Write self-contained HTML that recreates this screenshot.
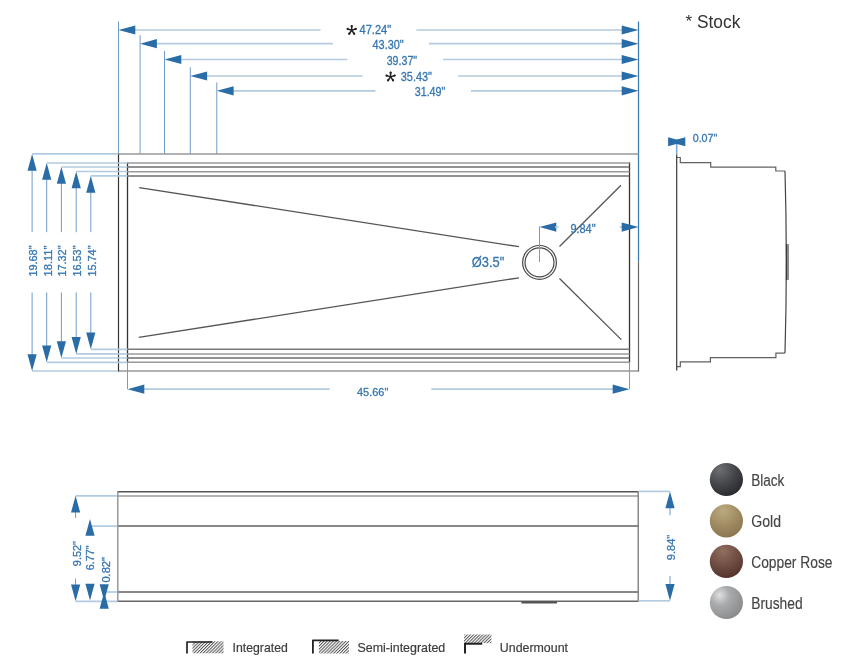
<!DOCTYPE html>
<html><head><meta charset="utf-8"><style>
html,body{margin:0;padding:0;background:#fff;width:848px;height:664px;overflow:hidden}
svg{display:block;will-change:transform}
</style></head><body>
<svg width="848" height="664" viewBox="0 0 848 664"><line x1="118.5" y1="21.5" x2="118.5" y2="154" stroke="#6e9ccb" stroke-width="1.0"/>
<line x1="128.5" y1="30.0" x2="320.5" y2="30.0" stroke="#b2cbe1" stroke-width="1.7"/>
<line x1="416.4" y1="30.0" x2="628.5" y2="30.0" stroke="#b2cbe1" stroke-width="1.7"/>
<polygon points="118.50,30.00 135.30,25.40 135.30,34.60" fill="#2a6ca6"/>
<polygon points="638.50,30.00 621.70,25.40 621.70,34.60" fill="#2a6ca6"/>
<text x="359.5" y="34.4" font-family="'Liberation Sans', sans-serif" font-size="13" fill="#3575b0" text-anchor="start" font-weight="normal" textLength="31.7" lengthAdjust="spacingAndGlyphs" stroke="#3575b0" stroke-width="0.3">47.24&quot;</text>
<line x1="351.70" y1="30.30" x2="351.70" y2="25.80" stroke="#222" stroke-width="1.5" stroke-linecap="round"/>
<circle cx="351.70" cy="26.16" r="1.15" fill="#222"/>
<line x1="351.70" y1="30.30" x2="347.42" y2="28.91" stroke="#222" stroke-width="1.5" stroke-linecap="round"/>
<circle cx="347.76" cy="29.02" r="1.15" fill="#222"/>
<line x1="351.70" y1="30.30" x2="349.05" y2="33.94" stroke="#222" stroke-width="1.5" stroke-linecap="round"/>
<circle cx="349.27" cy="33.65" r="1.15" fill="#222"/>
<line x1="351.70" y1="30.30" x2="354.35" y2="33.94" stroke="#222" stroke-width="1.5" stroke-linecap="round"/>
<circle cx="354.13" cy="33.65" r="1.15" fill="#222"/>
<line x1="351.70" y1="30.30" x2="355.98" y2="28.91" stroke="#222" stroke-width="1.5" stroke-linecap="round"/>
<circle cx="355.64" cy="29.02" r="1.15" fill="#222"/>
<line x1="140.1" y1="35.2" x2="140.1" y2="154" stroke="#6e9ccb" stroke-width="1.0"/>
<line x1="150.1" y1="43.7" x2="332.8" y2="43.7" stroke="#b2cbe1" stroke-width="1.7"/>
<line x1="428.9" y1="43.7" x2="628.5" y2="43.7" stroke="#b2cbe1" stroke-width="1.7"/>
<polygon points="140.10,43.70 156.90,39.10 156.90,48.30" fill="#2a6ca6"/>
<polygon points="638.50,43.70 621.70,39.10 621.70,48.30" fill="#2a6ca6"/>
<text x="372.5" y="49.2" font-family="'Liberation Sans', sans-serif" font-size="13" fill="#3575b0" text-anchor="start" font-weight="normal" textLength="31.2" lengthAdjust="spacingAndGlyphs" stroke="#3575b0" stroke-width="0.3">43.30&quot;</text>
<line x1="164.5" y1="51.0" x2="164.5" y2="154" stroke="#6e9ccb" stroke-width="1.0"/>
<line x1="174.5" y1="59.5" x2="347.4" y2="59.5" stroke="#b2cbe1" stroke-width="1.7"/>
<line x1="443.2" y1="59.5" x2="628.5" y2="59.5" stroke="#b2cbe1" stroke-width="1.7"/>
<polygon points="164.50,59.50 181.30,54.90 181.30,64.10" fill="#2a6ca6"/>
<polygon points="638.50,59.50 621.70,54.90 621.70,64.10" fill="#2a6ca6"/>
<text x="386.7" y="64.9" font-family="'Liberation Sans', sans-serif" font-size="13" fill="#3575b0" text-anchor="start" font-weight="normal" textLength="30.4" lengthAdjust="spacingAndGlyphs" stroke="#3575b0" stroke-width="0.3">39.37&quot;</text>
<line x1="190.3" y1="67.3" x2="190.3" y2="154" stroke="#6e9ccb" stroke-width="1.0"/>
<line x1="200.3" y1="76.0" x2="362.4" y2="76.0" stroke="#b2cbe1" stroke-width="1.7"/>
<line x1="458.0" y1="76.0" x2="628.5" y2="76.0" stroke="#b2cbe1" stroke-width="1.7"/>
<polygon points="190.30,76.00 207.10,71.40 207.10,80.60" fill="#2a6ca6"/>
<polygon points="638.50,76.00 621.70,71.40 621.70,80.60" fill="#2a6ca6"/>
<text x="400.8" y="81.2" font-family="'Liberation Sans', sans-serif" font-size="13" fill="#3575b0" text-anchor="start" font-weight="normal" textLength="31.2" lengthAdjust="spacingAndGlyphs" stroke="#3575b0" stroke-width="0.3">35.43&quot;</text>
<line x1="390.60" y1="76.90" x2="390.60" y2="72.40" stroke="#222" stroke-width="1.5" stroke-linecap="round"/>
<circle cx="390.60" cy="72.76" r="1.15" fill="#222"/>
<line x1="390.60" y1="76.90" x2="386.32" y2="75.51" stroke="#222" stroke-width="1.5" stroke-linecap="round"/>
<circle cx="386.66" cy="75.62" r="1.15" fill="#222"/>
<line x1="390.60" y1="76.90" x2="387.95" y2="80.54" stroke="#222" stroke-width="1.5" stroke-linecap="round"/>
<circle cx="388.17" cy="80.25" r="1.15" fill="#222"/>
<line x1="390.60" y1="76.90" x2="393.25" y2="80.54" stroke="#222" stroke-width="1.5" stroke-linecap="round"/>
<circle cx="393.03" cy="80.25" r="1.15" fill="#222"/>
<line x1="390.60" y1="76.90" x2="394.88" y2="75.51" stroke="#222" stroke-width="1.5" stroke-linecap="round"/>
<circle cx="394.54" cy="75.62" r="1.15" fill="#222"/>
<line x1="216.8" y1="82.4" x2="216.8" y2="154" stroke="#6e9ccb" stroke-width="1.0"/>
<line x1="226.8" y1="90.8" x2="375.4" y2="90.8" stroke="#b2cbe1" stroke-width="1.7"/>
<line x1="471.0" y1="90.8" x2="628.5" y2="90.8" stroke="#b2cbe1" stroke-width="1.7"/>
<polygon points="216.80,90.80 233.60,86.20 233.60,95.40" fill="#2a6ca6"/>
<polygon points="638.50,90.80 621.70,86.20 621.70,95.40" fill="#2a6ca6"/>
<text x="414.7" y="96.4" font-family="'Liberation Sans', sans-serif" font-size="13" fill="#3575b0" text-anchor="start" font-weight="normal" textLength="30.7" lengthAdjust="spacingAndGlyphs" stroke="#3575b0" stroke-width="0.3">31.49&quot;</text>
<line x1="638.5" y1="21.5" x2="638.5" y2="261.6" stroke="#3f7db6" stroke-width="1.3"/>
<text x="685.5" y="26.6" font-family="'Liberation Sans', sans-serif" font-size="17" fill="#333" text-anchor="start" font-weight="normal">*</text>
<text x="697" y="27.7" font-family="'Liberation Sans', sans-serif" font-size="18" fill="#333" text-anchor="start" font-weight="normal" textLength="43.3" lengthAdjust="spacingAndGlyphs">Stock</text>
<line x1="118.5" y1="153.9" x2="638.5" y2="153.9" stroke="#999" stroke-width="1.5"/>
<line x1="118.5" y1="371" x2="638.5" y2="371" stroke="#999" stroke-width="1.5"/>
<line x1="118.5" y1="153.5" x2="118.5" y2="371.5" stroke="#333" stroke-width="1.2"/>
<line x1="638.5" y1="261.6" x2="638.5" y2="371.5" stroke="#666" stroke-width="1.2"/>
<line x1="127.5" y1="162.5" x2="127.5" y2="362.6" stroke="#333" stroke-width="1.3"/>
<line x1="629.5" y1="162.5" x2="629.5" y2="362.6" stroke="#333" stroke-width="1.3"/>
<line x1="127.5" y1="163" x2="629.5" y2="163" stroke="#9a9a9a" stroke-width="1.5"/>
<line x1="127.5" y1="167" x2="629.5" y2="167" stroke="#6e6e6e" stroke-width="1.5"/>
<line x1="127.5" y1="171.7" x2="629.5" y2="171.7" stroke="#9a9a9a" stroke-width="1.5"/>
<line x1="127.5" y1="175.9" x2="629.5" y2="175.9" stroke="#6e6e6e" stroke-width="1.5"/>
<line x1="127.5" y1="349.3" x2="629.5" y2="349.3" stroke="#7a7a7a" stroke-width="1.5"/>
<line x1="127.5" y1="353.9" x2="629.5" y2="353.9" stroke="#9a9a9a" stroke-width="1.5"/>
<line x1="127.5" y1="358" x2="629.5" y2="358" stroke="#6e6e6e" stroke-width="1.5"/>
<line x1="127.5" y1="362.3" x2="629.5" y2="362.3" stroke="#9a9a9a" stroke-width="1.5"/>
<line x1="139.2" y1="187.6" x2="519" y2="246.7" stroke="#555" stroke-width="1.3"/>
<line x1="138.8" y1="337.4" x2="519" y2="277.8" stroke="#555" stroke-width="1.3"/>
<line x1="559.5" y1="246.5" x2="621" y2="185.2" stroke="#555" stroke-width="1.3"/>
<line x1="559.5" y1="278.5" x2="621.3" y2="339.6" stroke="#555" stroke-width="1.3"/>
<circle cx="539.5" cy="262.4" r="16.9" fill="none" stroke="#4a4a4a" stroke-width="1.2"/>
<circle cx="539.5" cy="262.4" r="14.5" fill="none" stroke="#4a4a4a" stroke-width="1.2"/>
<text x="471.8" y="266.8" font-family="'Liberation Sans', sans-serif" font-size="14.5" fill="#3575b0" text-anchor="start" font-weight="normal" textLength="32.5" lengthAdjust="spacingAndGlyphs" stroke="#3575b0" stroke-width="0.3">Ø3.5&quot;</text>
<line x1="539.5" y1="226.5" x2="539.5" y2="262" stroke="#6e9ccb" stroke-width="1.0"/>
<polygon points="539.50,227.10 556.30,222.50 556.30,231.70" fill="#2a6ca6"/>
<line x1="555" y1="227.1" x2="558.6" y2="227.1" stroke="#b2cbe1" stroke-width="1.7"/>
<line x1="619.9" y1="227.1" x2="625" y2="227.1" stroke="#b2cbe1" stroke-width="1.7"/>
<polygon points="638.50,227.10 621.70,222.50 621.70,231.70" fill="#2a6ca6"/>
<text x="570.4" y="233.0" font-family="'Liberation Sans', sans-serif" font-size="12" fill="#3575b0" text-anchor="start" font-weight="normal" textLength="25.2" lengthAdjust="spacingAndGlyphs" stroke="#3575b0" stroke-width="0.3">9.84&quot;</text>
<line x1="32.1" y1="153.9" x2="118.5" y2="153.9" stroke="#b2cbe1" stroke-width="1.7"/>
<line x1="32.1" y1="371.0" x2="117.5" y2="371.0" stroke="#b2cbe1" stroke-width="1.7"/>
<line x1="32.1" y1="163.9" x2="32.1" y2="232.2" stroke="#6e9ccb" stroke-width="1.0"/>
<line x1="32.1" y1="292.5" x2="32.1" y2="361.0" stroke="#6e9ccb" stroke-width="1.0"/>
<polygon points="32.10,153.90 27.50,170.70 36.70,170.70" fill="#2a6ca6"/>
<polygon points="32.10,371.00 27.50,354.20 36.70,354.20" fill="#2a6ca6"/>
<text transform="translate(37.0,261.0) rotate(-90)" font-family="'Liberation Sans', sans-serif" font-size="11" fill="#3575b0" text-anchor="middle" font-weight="normal" textLength="31" lengthAdjust="spacingAndGlyphs" stroke="#3575b0" stroke-width="0.3">19.68&quot;</text>
<line x1="46.7" y1="163.0" x2="127.5" y2="163.0" stroke="#b2cbe1" stroke-width="1.7"/>
<line x1="46.7" y1="362.3" x2="127.5" y2="362.3" stroke="#b2cbe1" stroke-width="1.7"/>
<line x1="46.7" y1="173.0" x2="46.7" y2="232.2" stroke="#6e9ccb" stroke-width="1.0"/>
<line x1="46.7" y1="292.5" x2="46.7" y2="352.3" stroke="#6e9ccb" stroke-width="1.0"/>
<polygon points="46.70,163.00 42.10,179.80 51.30,179.80" fill="#2a6ca6"/>
<polygon points="46.70,362.30 42.10,345.50 51.30,345.50" fill="#2a6ca6"/>
<text transform="translate(51.6,261.0) rotate(-90)" font-family="'Liberation Sans', sans-serif" font-size="11" fill="#3575b0" text-anchor="middle" font-weight="normal" textLength="31" lengthAdjust="spacingAndGlyphs" stroke="#3575b0" stroke-width="0.3">18.11&quot;</text>
<line x1="61.4" y1="167.0" x2="127.5" y2="167.0" stroke="#b2cbe1" stroke-width="1.7"/>
<line x1="61.4" y1="358.0" x2="127.5" y2="358.0" stroke="#b2cbe1" stroke-width="1.7"/>
<line x1="61.4" y1="177.0" x2="61.4" y2="232.2" stroke="#6e9ccb" stroke-width="1.0"/>
<line x1="61.4" y1="292.5" x2="61.4" y2="348.0" stroke="#6e9ccb" stroke-width="1.0"/>
<polygon points="61.40,167.00 56.80,183.80 66.00,183.80" fill="#2a6ca6"/>
<polygon points="61.40,358.00 56.80,341.20 66.00,341.20" fill="#2a6ca6"/>
<text transform="translate(66.3,261.0) rotate(-90)" font-family="'Liberation Sans', sans-serif" font-size="11" fill="#3575b0" text-anchor="middle" font-weight="normal" textLength="31" lengthAdjust="spacingAndGlyphs" stroke="#3575b0" stroke-width="0.3">17.32&quot;</text>
<line x1="76.2" y1="171.5" x2="127.5" y2="171.5" stroke="#b2cbe1" stroke-width="1.7"/>
<line x1="76.2" y1="353.9" x2="127.5" y2="353.9" stroke="#b2cbe1" stroke-width="1.7"/>
<line x1="76.2" y1="181.5" x2="76.2" y2="232.2" stroke="#6e9ccb" stroke-width="1.0"/>
<line x1="76.2" y1="292.5" x2="76.2" y2="343.9" stroke="#6e9ccb" stroke-width="1.0"/>
<polygon points="76.20,171.50 71.60,188.30 80.80,188.30" fill="#2a6ca6"/>
<polygon points="76.20,353.90 71.60,337.10 80.80,337.10" fill="#2a6ca6"/>
<text transform="translate(81.10000000000001,261.0) rotate(-90)" font-family="'Liberation Sans', sans-serif" font-size="11" fill="#3575b0" text-anchor="middle" font-weight="normal" textLength="31" lengthAdjust="spacingAndGlyphs" stroke="#3575b0" stroke-width="0.3">16.53&quot;</text>
<line x1="90.8" y1="175.9" x2="127.5" y2="175.9" stroke="#b2cbe1" stroke-width="1.7"/>
<line x1="90.8" y1="349.3" x2="127.5" y2="349.3" stroke="#b2cbe1" stroke-width="1.7"/>
<line x1="90.8" y1="185.9" x2="90.8" y2="232.2" stroke="#6e9ccb" stroke-width="1.0"/>
<line x1="90.8" y1="292.5" x2="90.8" y2="339.3" stroke="#6e9ccb" stroke-width="1.0"/>
<polygon points="90.80,175.90 86.20,192.70 95.40,192.70" fill="#2a6ca6"/>
<polygon points="90.80,349.30 86.20,332.50 95.40,332.50" fill="#2a6ca6"/>
<text transform="translate(95.7,261.0) rotate(-90)" font-family="'Liberation Sans', sans-serif" font-size="11" fill="#3575b0" text-anchor="middle" font-weight="normal" textLength="31" lengthAdjust="spacingAndGlyphs" stroke="#3575b0" stroke-width="0.3">15.74&quot;</text>
<line x1="127.5" y1="362.3" x2="127.5" y2="389.2" stroke="#6e9ccb" stroke-width="1.0"/>
<line x1="629.5" y1="362.3" x2="629.5" y2="389.2" stroke="#6e9ccb" stroke-width="1.0"/>
<line x1="138" y1="389.2" x2="329.7" y2="389.2" stroke="#b2cbe1" stroke-width="1.7"/>
<line x1="431.3" y1="389.2" x2="618" y2="389.2" stroke="#b2cbe1" stroke-width="1.7"/>
<polygon points="127.50,389.20 144.30,384.60 144.30,393.80" fill="#2a6ca6"/>
<polygon points="629.50,389.20 612.70,384.60 612.70,393.80" fill="#2a6ca6"/>
<text x="357" y="396.2" font-family="'Liberation Sans', sans-serif" font-size="11.8" fill="#3575b0" text-anchor="start" font-weight="normal" textLength="31.3" lengthAdjust="spacingAndGlyphs" stroke="#3575b0" stroke-width="0.3">45.66&quot;</text>
<line x1="676.7" y1="143" x2="676.7" y2="154.5" stroke="#7aa6d0" stroke-width="1.5"/>
<polygon points="668.1,137.3 684.6,141.8 668.1,146.3" fill="#2a6ca6"/>
<polygon points="685.3,137.3 668.8,141.8 685.3,146.3" fill="#2a6ca6"/>
<text x="692.7" y="142.2" font-family="'Liberation Sans', sans-serif" font-size="11.5" fill="#3575b0" text-anchor="start" font-weight="normal" textLength="24.6" lengthAdjust="spacingAndGlyphs" stroke="#3575b0" stroke-width="0.3">0.07&quot;</text>
<path d="M676.7,157.5 H680.3 V162.7 H710.7 V167.1 H775.8 V171 H785 M785,353.1 H775.9 V357.6 H710.4 V361.9 H680.3 V366.7 H676.7" fill="none" stroke="#606060" stroke-width="1.2"/>
<path d="M676.7,154.5 L676.7,370.5" fill="none" stroke="#3a3a3a" stroke-width="1.2"/>
<path d="M785,171 Q787.6,262 785,353.1" fill="none" stroke="#444" stroke-width="1.2"/>
<rect x="786.2" y="244.1" width="2.8" height="36" rx="0.8" fill="#8a8a8a"/>
<line x1="786.4" y1="244" x2="786.4" y2="280.3" stroke="#333" stroke-width="1"/>
<line x1="117.8" y1="491.7" x2="638.2" y2="491.7" stroke="#555" stroke-width="1.5"/>
<line x1="117.8" y1="495.9" x2="638.2" y2="495.9" stroke="#9a9a9a" stroke-width="1.5"/>
<line x1="117.8" y1="526" x2="638.2" y2="526" stroke="#606060" stroke-width="1.5"/>
<line x1="117.8" y1="591.9" x2="638.2" y2="591.9" stroke="#606060" stroke-width="1.5"/>
<line x1="117.8" y1="601.2" x2="638.2" y2="601.2" stroke="#666" stroke-width="1.5"/>
<line x1="117.8" y1="491" x2="117.8" y2="601.9" stroke="#8a8a8a" stroke-width="1.3"/>
<line x1="638.2" y1="491" x2="638.2" y2="601.9" stroke="#777" stroke-width="1.3"/>
<rect x="521.3" y="601" width="35.8" height="2.6" rx="1.2" fill="#555"/>
<line x1="75.6" y1="495.8" x2="117.2" y2="495.8" stroke="#b2cbe1" stroke-width="1.7"/>
<line x1="75.6" y1="505" x2="75.6" y2="518" stroke="#6e9ccb" stroke-width="1.0"/>
<polygon points="75.60,495.80 71.00,512.60 80.20,512.60" fill="#2a6ca6"/>
<line x1="92" y1="526.1" x2="117.2" y2="526.1" stroke="#b2cbe1" stroke-width="1.7"/>
<polygon points="90.00,519.00 85.40,535.80 94.60,535.80" fill="#2a6ca6"/>
<line x1="75.6" y1="601.3" x2="117.2" y2="601.3" stroke="#b2cbe1" stroke-width="1.7"/>
<line x1="75.6" y1="578.5" x2="75.6" y2="590" stroke="#6e9ccb" stroke-width="1.0"/>
<polygon points="75.60,601.30 71.00,584.50 80.20,584.50" fill="#2a6ca6"/>
<polygon points="90.00,600.60 85.40,583.80 94.60,583.80" fill="#2a6ca6"/>
<line x1="106.4" y1="592" x2="117.2" y2="592" stroke="#b2cbe1" stroke-width="1.7"/>
<polygon points="104.20,601.00 99.60,584.20 108.80,584.20" fill="#2a6ca6"/>
<polygon points="104.20,592.00 99.60,608.80 108.80,608.80" fill="#2a6ca6"/>
<text transform="translate(80.6,553.6) rotate(-90)" font-family="'Liberation Sans', sans-serif" font-size="11" fill="#3575b0" text-anchor="middle" font-weight="normal" textLength="25.1" lengthAdjust="spacingAndGlyphs" stroke="#3575b0" stroke-width="0.3">9.52&quot;</text>
<text transform="translate(94.4,557.8) rotate(-90)" font-family="'Liberation Sans', sans-serif" font-size="11" fill="#3575b0" text-anchor="middle" font-weight="normal" textLength="24.8" lengthAdjust="spacingAndGlyphs" stroke="#3575b0" stroke-width="0.3">6.77&quot;</text>
<text transform="translate(110.2,569.8) rotate(-90)" font-family="'Liberation Sans', sans-serif" font-size="11" fill="#3575b0" text-anchor="middle" font-weight="normal" textLength="25.6" lengthAdjust="spacingAndGlyphs" stroke="#3575b0" stroke-width="0.3">0.82&quot;</text>
<line x1="638.5" y1="491.4" x2="670" y2="491.4" stroke="#b2cbe1" stroke-width="1.7"/>
<line x1="638.5" y1="600.8" x2="670" y2="600.8" stroke="#b2cbe1" stroke-width="1.7"/>
<line x1="670" y1="500" x2="670" y2="515.3" stroke="#6e9ccb" stroke-width="1.0"/>
<polygon points="670.00,491.40 665.40,508.20 674.60,508.20" fill="#2a6ca6"/>
<line x1="670" y1="575.9" x2="670" y2="590" stroke="#6e9ccb" stroke-width="1.0"/>
<polygon points="670.00,600.70 665.40,583.90 674.60,583.90" fill="#2a6ca6"/>
<text transform="translate(674.6,547.5) rotate(-90)" font-family="'Liberation Sans', sans-serif" font-size="11" fill="#3575b0" text-anchor="middle" font-weight="normal" textLength="25.3" lengthAdjust="spacingAndGlyphs" stroke="#3575b0" stroke-width="0.3">9.84&quot;</text>
<defs>
<radialGradient id="gBlack" cx="0.3" cy="0.2" r="0.9"><stop offset="0" stop-color="#6e6f72"/><stop offset="0.5" stop-color="#45474a"/><stop offset="1" stop-color="#25272b"/></radialGradient>
<radialGradient id="gGold" cx="0.4" cy="0.2" r="0.9"><stop offset="0" stop-color="#bba97e"/><stop offset="1" stop-color="#85704a"/></radialGradient>
<radialGradient id="gCopper" cx="0.4" cy="0.2" r="0.9"><stop offset="0" stop-color="#906e60"/><stop offset="0.5" stop-color="#6f4d42"/><stop offset="1" stop-color="#4c2f28"/></radialGradient>
<radialGradient id="gBrushed" cx="0.3" cy="0.28" r="0.85"><stop offset="0" stop-color="#dfe0e1"/><stop offset="0.35" stop-color="#a9abad"/><stop offset="1" stop-color="#848688"/></radialGradient>
</defs>
<circle cx="726.4" cy="479.5" r="16.6" fill="url(#gBlack)"/>
<text x="751.2" y="485.8" font-family="'Liberation Sans', sans-serif" font-size="16.3" fill="#444" text-anchor="start" font-weight="normal" textLength="33.2" lengthAdjust="spacingAndGlyphs" stroke="#444" stroke-width="0.15">Black</text>
<circle cx="726.4" cy="520.8" r="16.6" fill="url(#gGold)"/>
<text x="751.2" y="527.0999999999999" font-family="'Liberation Sans', sans-serif" font-size="16.3" fill="#444" text-anchor="start" font-weight="normal" textLength="29.8" lengthAdjust="spacingAndGlyphs" stroke="#444" stroke-width="0.15">Gold</text>
<circle cx="726.4" cy="561.4" r="16.6" fill="url(#gCopper)"/>
<text x="751.2" y="567.6999999999999" font-family="'Liberation Sans', sans-serif" font-size="16.3" fill="#444" text-anchor="start" font-weight="normal" textLength="81.3" lengthAdjust="spacingAndGlyphs" stroke="#444" stroke-width="0.15">Copper Rose</text>
<circle cx="726.4" cy="602.5" r="16.6" fill="url(#gBrushed)"/>
<text x="751.2" y="608.8" font-family="'Liberation Sans', sans-serif" font-size="16.3" fill="#444" text-anchor="start" font-weight="normal" textLength="51.5" lengthAdjust="spacingAndGlyphs" stroke="#444" stroke-width="0.15">Brushed</text>
<defs>
<pattern id="hatch" patternUnits="userSpaceOnUse" width="2.2" height="2.2" patternTransform="rotate(45)">
<rect width="2.2" height="2.2" fill="#fff"/><line x1="0.5" y1="0" x2="0.5" y2="2.2" stroke="#555" stroke-width="1.0"/></pattern>
</defs>
<rect x="192.5" y="641.3" width="31" height="12" fill="url(#hatch)"/>
<path d="M187,653.6 V642 H212.5" fill="none" stroke="#222" stroke-width="1.7" stroke-linejoin="round"/>
<text x="232.6" y="652.4" font-family="'Liberation Sans', sans-serif" font-size="13" fill="#3c3c3c" text-anchor="start" font-weight="normal" textLength="55.2" lengthAdjust="spacingAndGlyphs" stroke="#3c3c3c" stroke-width="0.2">Integrated</text>
<rect x="318.9" y="641" width="30" height="12.5" fill="url(#hatch)"/>
<path d="M312.9,653.6 V640.4 H338.7" fill="none" stroke="#222" stroke-width="1.8" stroke-linejoin="round"/>
<text x="357.5" y="652.4" font-family="'Liberation Sans', sans-serif" font-size="13" fill="#3c3c3c" text-anchor="start" font-weight="normal" textLength="87.8" lengthAdjust="spacingAndGlyphs" stroke="#3c3c3c" stroke-width="0.2">Semi-integrated</text>
<rect x="464.1" y="634.5" width="27.3" height="8.6" fill="url(#hatch)"/>
<path d="M465,653.5 V643.8 H482.2" fill="none" stroke="#222" stroke-width="2"/>
<text x="499.8" y="652.3" font-family="'Liberation Sans', sans-serif" font-size="13" fill="#3c3c3c" text-anchor="start" font-weight="normal" textLength="68.2" lengthAdjust="spacingAndGlyphs" stroke="#3c3c3c" stroke-width="0.2">Undermount</text></svg>
</body></html>
